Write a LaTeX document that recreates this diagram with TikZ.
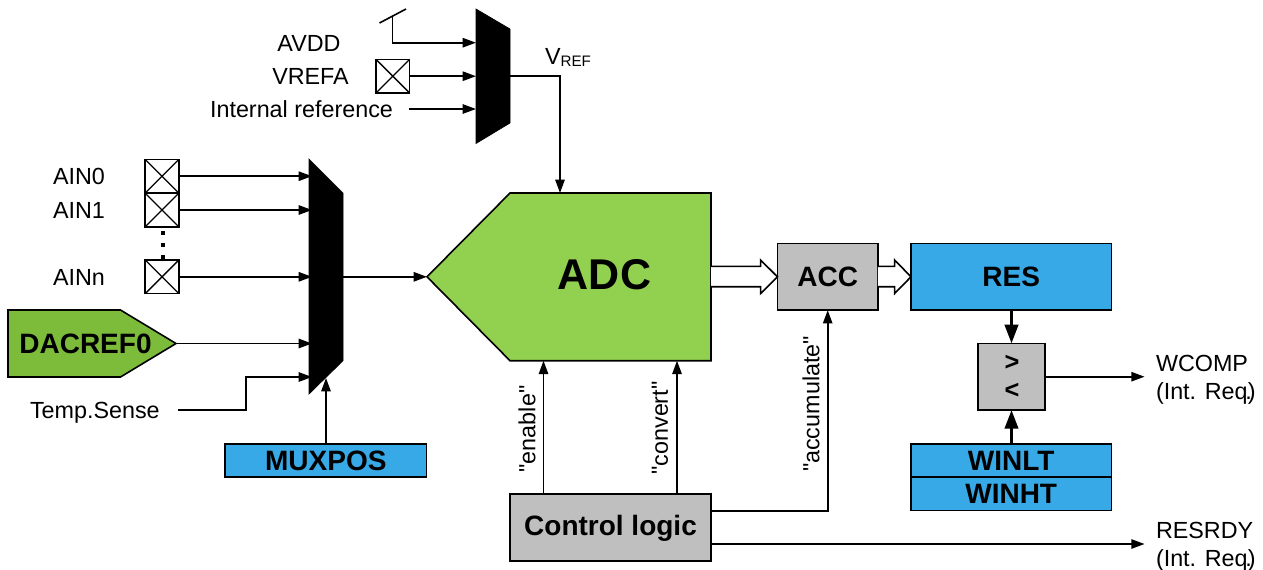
\documentclass[tikz,border=0pt]{standalone}
\usepackage{fontspec}
\setmainfont{Liberation Sans}
\newfontfamily\rawfont{Liberation Sans}
\usetikzlibrary{arrows.meta,calc}
\definecolor{adcgreen}{HTML}{92D050}
\definecolor{dacgreen}{HTML}{7CBC3A}
\definecolor{regblue}{HTML}{36A9E6}
\definecolor{blockgray}{HTML}{BFBFBF}
\tikzset{
  wire/.style={line width=1.3pt,-{Triangle[length=10pt,width=7pt]}},
  thickwire/.style={line width=2.2pt,-{Triangle[length=14pt,width=10pt]}},
  block/.style={draw=black,line width=1.2pt,inner sep=0pt,outer sep=0pt,rectangle,align=center,font=\fontsize{21}{24}\selectfont\bfseries},
  regbox/.style={block,fill=regblue},
  graybox/.style={block,fill=blockgray},
  shapeline/.style={draw=black,line width=1.2pt,line join=miter},
  muxshape/.style={fill=black,draw=black,line width=0.5pt},
  hollow/.style={draw=black,line width=1.2pt,line join=miter},
  pad/.style={draw=black,line width=1.3pt,fill=white,inner sep=0pt,outer sep=0pt,minimum width=25pt,minimum height=25pt,
    path picture={\draw[line width=1pt] (path picture bounding box.north west)--(path picture bounding box.south east)
      (path picture bounding box.north east)--(path picture bounding box.south west);}},
  lab/.style={font=\fontsize{17.5}{20}\selectfont,inner sep=0pt,outer sep=0pt},
  rotlab/.style={inner sep=0pt,outer sep=0pt,font=\rawfont\fontsize{17.5}{20}\selectfont,rotate=90},
}
\begin{document}
\begin{tikzpicture}[x=0.75pt,y=-0.75pt]
\useasboundingbox (0,0) rectangle (1263,569);
\clip (0,0) rectangle (1263,569);
% shapes
\path[shapeline,fill=adcgreen] (427,276.8) -- (510,193) -- (711,193) -- (711,360.7) -- (510,360.7) -- cycle;
\path[shapeline,fill=dacgreen] (8,310) -- (120.5,310) -- (176,343.5) -- (120.5,377) -- (8,377) -- cycle;
\draw[line width=1.2pt] (379.5,23) -- (406,9);
% anchors
\coordinate (ant) at (392.5,16);
\coordinate (ma) at (476,42.7);
\coordinate (mb) at (476,76.2);
\coordinate (mc) at (476,109);
\coordinate (mout) at (510,76);
\coordinate (intref) at (409,109);
\coordinate (adctop) at (560,193);
\coordinate (adcleft) at (427,276.8);
\coordinate (adcright) at (711,276.8);
\coordinate (dactip) at (176,343.5);
\coordinate (tsense) at (178,410);
\coordinate (p0) at (312,176.2);
\coordinate (p1) at (312,210);
\coordinate (pn) at (312,276.8);
\coordinate (pd) at (312,343.5);
\coordinate (pt) at (312,377);
\coordinate (pout) at (343,276.8);
\coordinate (pb) at (326,378);
\coordinate (adcen) at (543.5,360.7);
\coordinate (adccv) at (677,360.7);
\coordinate (wcompend) at (1144.6,376.7);
\coordinate (rdyend) at (1144.6,544);
% pads
\node[pad] (vrefa) at (392.8,76.2) {};
\node[pad] (ain0) at (162,176.2) {};
\node[pad] (ain1) at (162,210) {};
\node[pad] (ainn) at (162,276.8) {};
% blocks
\node[regbox,minimum width=151pt,minimum height=25pt] (muxpos) at (325.8,460.5) {MUXPOS};
\node[graybox,minimum width=150.8pt,minimum height=50.3pt,text height=13pt,text depth=1pt] (ctrl) at (610.5,527.5) {Control logic};
\node[graybox,minimum width=75.4pt,minimum height=50pt] (acc) at (827.7,276.8) {ACC};
\node[regbox,minimum width=150.3pt,minimum height=50pt] (res) at (1011.2,276.8) {RES};
\node[graybox,minimum width=50.3pt,minimum height=50pt] (cmp) at (1011.5,376.7) {};
\node[regbox,minimum width=150.3pt,minimum height=25pt] (winlt) at (1011.2,460.4) {WINLT};
\node[regbox,minimum width=150.3pt,minimum height=25pt] (winht) at (1011.2,493.9) {WINHT};
% block texts drawn on shapes
\node[inner sep=0pt,font=\fontsize{32.25}{36}\selectfont\bfseries] (adc) at (604.5,275) {ADC};
\node[inner sep=0pt,font=\fontsize{21}{24}\selectfont\bfseries] (dac) at (85.5,343.5) {DACREF0};
\node[inner sep=0pt,font=\fontsize{19}{21}\selectfont\bfseries] (gt) at (1012,363) {>};
\node[inner sep=0pt,font=\fontsize{19}{21}\selectfont\bfseries] (lt) at (1012,391) {<};
% labels
\node[lab,anchor=base] (lavdd) at (309,51.5) {AVDD};
\node[lab,anchor=base] (lvrefa) at (310.5,84.5) {VREFA};
\node[lab,anchor=base] (lint) at (301.5,117.3) {Internal reference};
\node[lab,anchor=base west] (lain0) at (53,184.5) {AIN0};
\node[lab,anchor=base west] (lain1) at (53,218.5) {AIN1};
\node[lab,anchor=base west] (lainn) at (53,285.5) {AINn};
\node[lab,anchor=base west] (ltemp) at (30,418.5) {Temp.Sense};
\node[lab,anchor=base west] (lvref) at (545,64) {V\raisebox{-2.2pt}{\fontsize{11.4}{13}\selectfont REF}};
\node[lab,anchor=base west] (lw) at (1156,371.5) {WCOMP};
\node[lab,anchor=base west] (lwi) at (1156,399.5) {(Int. Req\kern-1.8pt.\kern-3pt)};
\node[lab,anchor=base west] (lr) at (1156,538.5) {RESRDY};
\node[lab,anchor=base west] (lri) at (1156,566) {(Int. Req\kern-1.8pt.\kern-3pt)};
\node[rotlab] (len) at (527,429) {"enable"};
\node[rotlab] (lcv) at (660,428) {"convert"};
\node[rotlab] (lac) at (811,404) {"accumulate"};
% connectors
\draw[wire] (ant) |- (ma);
\draw[wire] (vrefa.east) -- (mb);
\draw[wire] (intref) -- (mc);
\draw[wire] (mout) -| (adctop);
\draw[wire] (ain0.east) -- (p0);
\draw[wire] (ain1.east) -- (p1);
\draw[wire] (ainn.east) -- (pn);
\draw[wire] (dactip) -- (pd);
\draw[wire] (tsense) -- (246,410) -- (246,377) -- (pt);
\draw[wire] (pout) -- (adcleft);
% multiplexers over the wire ends
\path[muxshape] (476,9) -- (510,29) -- (510,123) -- (476,143.5) -- cycle;
\path[muxshape] (309,159) -- (343,193) -- (343,360.7) -- (309,394) -- cycle;
\draw[wire] (muxpos.north -| pb) -- (pb);
\draw[wire] (ctrl.north -| adcen) -- (adcen);
\draw[wire] (ctrl.north -| adccv) -- (adccv);
\draw[wire] (ctrl.east |- 0,510.7) -| (acc.south);
\draw[wire] (ctrl.east |- rdyend) -- (rdyend);
\draw[wire] (cmp.east) -- (wcompend);
\draw[thickwire] (res.south -| cmp.north) -- (cmp.north);
\draw[thickwire] (winlt.north -| cmp.south) -- (cmp.south);
\draw[line width=2.4pt,dash pattern=on 3pt off 6pt,line cap=butt] (ain1.south) ++(1,4.5) -- (ainn.north -| 163,0);
% hollow bus arrows
\path[fill=white] (adcright |- 0,266.3) -- (760.6,266.3) -- (760.6,260) -- (acc.west) -- (760.6,293.5) -- (760.6,286.7) -- (adcright |- 0,286.7) -- cycle;
\draw[hollow] (adcright |- 0,266.3) -- (760.6,266.3) -- (760.6,260) -- (acc.west) -- (760.6,293.5) -- (760.6,286.7) -- (adcright |- 0,286.7);
\path[fill=white] (acc.east |- 0,266.3) -- (894.6,266.3) -- (894.6,260) -- (res.west) -- (894.6,293.5) -- (894.6,286.7) -- (acc.east |- 0,286.7) -- cycle;
\draw[hollow] (acc.east |- 0,266.3) -- (894.6,266.3) -- (894.6,260) -- (res.west) -- (894.6,293.5) -- (894.6,286.7) -- (acc.east |- 0,286.7);
\end{tikzpicture}
\end{document}
